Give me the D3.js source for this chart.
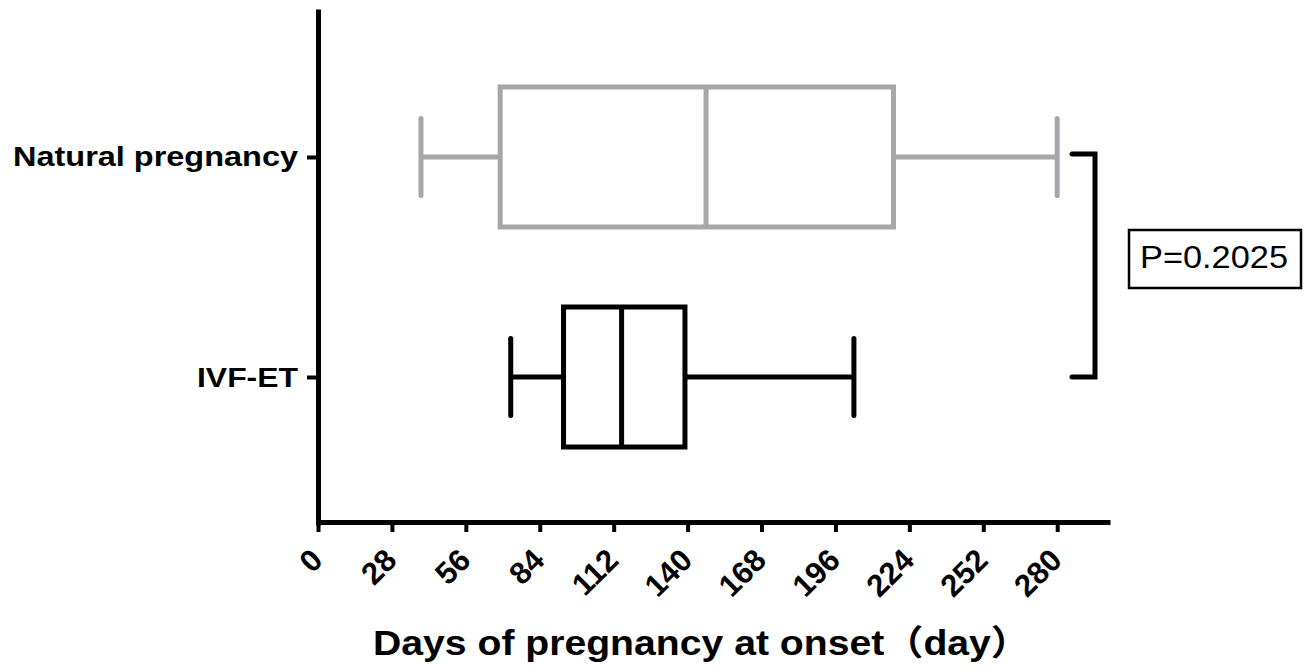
<!DOCTYPE html>
<html>
<head>
<meta charset="utf-8">
<script src="https://cdn.jsdelivr.net/npm/d3@7/dist/d3.min.js"></script>
<style>
  html, body { margin: 0; padding: 0; background: #fff; }
  svg { display: block; }
  text { font-family: "Liberation Sans", Arial, "Noto Sans CJK SC", sans-serif; }
</style>
</head>
<body>
<svg id="chart" width="1304" height="669"></svg>
<script>
// ---- data ----
const categories = ["Natural pregnancy", "IVF-ET"];
const whiskerLow  = [39, 73];
const q1          = [69, 93];
const medians     = [147, 115];
const q3          = [218, 139];
const whiskerHigh = [280, 203];
const seriesColors = ["#a6a6ab", "#000000"];
const xTicks = [0, 28, 56, 84, 112, 140, 168, 196, 224, 252, 280];
const xTitle = "Days of pregnancy at onset（day）";
const pLabel = "P=0.2025";

const svg = d3.select("#chart");

const x = d3.scaleLinear().domain([0, 300]).range([318, 1110]);
const y = d3.scalePoint().domain(categories).range([9, 525]).padding(0.6727);

const boxH = 140, capH = 77;

// x axis
const xAxisG = svg.append("g")
  .attr("transform", "translate(0,522)")
  .call(d3.axisBottom(x).tickValues(xTicks).tickSizeInner(10).tickSizeOuter(0).tickPadding(0));
xAxisG.select(".domain").attr("stroke", "#000").attr("stroke-width", 5);
xAxisG.selectAll(".tick line").attr("stroke", "#000").attr("stroke-width", 4);
xAxisG.selectAll(".tick text")
  .attr("y", 0).attr("dy", 0)
  .attr("transform", "translate(6,40) rotate(-45)")
  .attr("text-anchor", "end")
  .attr("fill", "#000")
  .style("font-size", "31px")
  .style("font-weight", "bold")
  .style("font-family", "'Liberation Sans', Arial, sans-serif");

// y axis
const yAxisG = svg.append("g")
  .attr("transform", "translate(318,0)")
  .call(d3.axisLeft(y).tickSizeInner(11).tickSizeOuter(0).tickPadding(9));
yAxisG.select(".domain").attr("stroke", "#000").attr("stroke-width", 5);
yAxisG.selectAll(".tick line").attr("stroke", "#000").attr("stroke-width", 4);
yAxisG.selectAll(".tick text")
  .attr("dy", 0).attr("y", 9)
  .attr("fill", "#000")
  .style("font-size", "28px")
  .style("font-weight", "bold")
  .style("font-family", "'Liberation Sans', Arial, sans-serif")
  .attr("textLength", d => d === "IVF-ET" ? 101 : 285)
  .attr("lengthAdjust", "spacingAndGlyphs");

// boxes
const data = categories.map((c, i) => ({
  c, lo: whiskerLow[i], q1: q1[i], med: medians[i], q3: q3[i], hi: whiskerHigh[i], color: seriesColors[i]
}));

const g = svg.append("g");
data.forEach(d => {
  const cy = y(d.c);
  const gg = g.append("g").attr("stroke", d.color).attr("stroke-width", 5).attr("fill", "none");
  gg.append("line").attr("x1", x(d.lo)).attr("x2", x(d.q1)).attr("y1", cy).attr("y2", cy);
  gg.append("line").attr("x1", x(d.q3)).attr("x2", x(d.hi)).attr("y1", cy).attr("y2", cy);
  gg.append("line").attr("x1", x(d.lo)).attr("x2", x(d.lo)).attr("y1", cy - capH / 2).attr("y2", cy + capH / 2).attr("stroke-linecap", "round");
  gg.append("line").attr("x1", x(d.hi)).attr("x2", x(d.hi)).attr("y1", cy - capH / 2).attr("y2", cy + capH / 2).attr("stroke-linecap", "round");
  gg.append("rect").attr("x", x(d.q1)).attr("y", cy - boxH / 2)
    .attr("width", x(d.q3) - x(d.q1)).attr("height", boxH);
  gg.append("line").attr("x1", x(d.med)).attr("x2", x(d.med)).attr("y1", cy - boxH / 2).attr("y2", cy + boxH / 2);
});

// significance bracket
const bx0 = x.range()[1] - 38, bx1 = x.range()[1] - 15;
const by0 = y(categories[0]) - 3, by1 = y(categories[1]);
svg.append("path")
  .attr("d", `M${bx0},${by0}H${bx1}V${by1}H${bx0}`)
  .attr("fill", "none").attr("stroke", "#000").attr("stroke-width", 5)
  .attr("stroke-linecap", "round");

// P-value box
const pBox = svg.append("g");
pBox.append("rect").attr("x", 1129).attr("y", 230).attr("width", 172).attr("height", 58)
  .attr("fill", "#fff").attr("stroke", "#000").attr("stroke-width", 2.5);
pBox.append("text").attr("x", 1140).attr("y", 268)
  .style("font-size", "31px")
  .attr("textLength", 148).attr("lengthAdjust", "spacingAndGlyphs")
  .attr("fill", "#000")
  .text(pLabel);

// x title
svg.append("text")
  .attr("x", 373).attr("y", 655)
  .style("font-size", "35px").style("font-weight", "bold")
  .attr("textLength", 657).attr("lengthAdjust", "spacingAndGlyphs")
  .attr("fill", "#000")
  .text(xTitle);
</script>
</body>
</html>
